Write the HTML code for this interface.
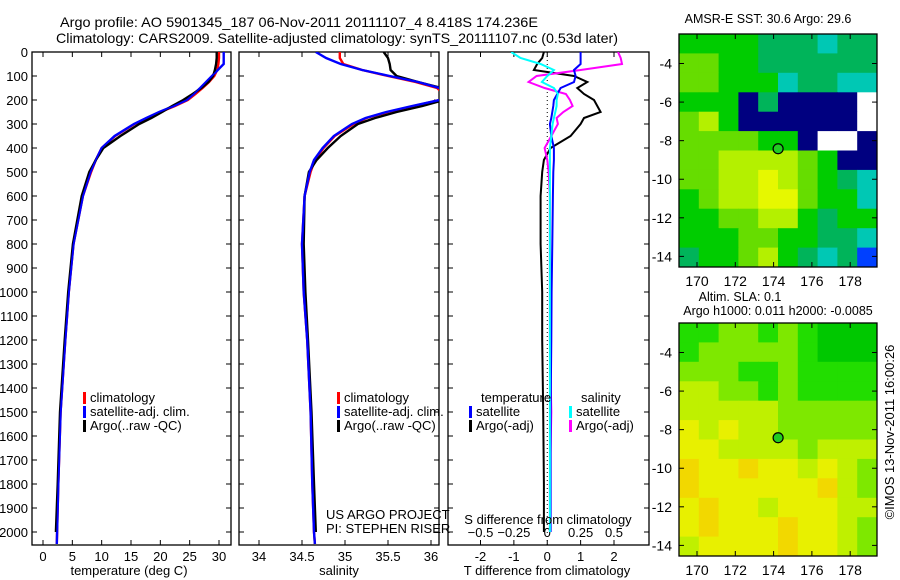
<!DOCTYPE html>
<html><head><meta charset="utf-8"><style>
body{margin:0;background:#fff}
svg{display:block;font-family:"Liberation Sans",sans-serif}
text{fill:#000}
</style></head><body>
<svg id="chart" width="900" height="580" viewBox="0 0 900 580" xmlns="http://www.w3.org/2000/svg">
<rect width="900" height="580" fill="#fff"/>
<text x="60" y="27" font-size="14" textLength="478" lengthAdjust="spacingAndGlyphs">Argo profile: AO 5901345_187 06-Nov-2011 20111107_4 8.418S 174.236E</text>
<text x="56" y="43" font-size="14" textLength="562" lengthAdjust="spacingAndGlyphs">Climatology: CARS2009. Satellite-adjusted climatology: synTS_20111107.nc (0.53d later)</text>
<g id="plots"></g>
</svg>
<script>
// ---- profile data ----
const depths = [0,25,50,75,100,125,150,175,200,225,250,275,300,350,400,450,500,600,800,1000,1200,1500,1800,2000,2050];
const tempClim = [30,30,29.9,29.7,29.2,28.3,27.2,26,24.7,22.5,20,17.8,15.6,12.3,10,9,8.2,6.8,5.2,4.4,3.8,3.0,2.6,2.4,2.35];
const tempSat  = [30.8,30.8,30.8,29.8,28.8,27.8,26.8,25.7,24.5,22.3,19.8,17.6,15.5,12.2,10,9,8.1,6.8,5.2,4.4,3.8,3.0,2.6,2.4,2.35];
const tempArgo = [29.6,29.6,29.5,29.3,29,28.2,27,25.5,23.9,22,20.3,18.5,16.4,13.2,10.3,9,7.9,6.6,5.1,4.3,3.7,2.9,2.5,2.2];
const salClim = [34.94,34.94,34.98,35.2,35.5,35.82,36.07,36.15,36.1,35.8,35.5,35.25,35.1,34.88,34.75,34.65,34.6,34.53,34.5,34.52,34.56,34.6,34.62,34.64,34.65];
const salSat  = [34.66,34.78,34.95,35.2,35.52,35.85,36.1,36.15,36.1,35.78,35.48,35.24,35.08,34.87,34.74,34.64,34.59,34.53,34.5,34.52,34.56,34.6,34.62,34.64,34.65];
const salArgo = [35.45,35.5,35.52,35.53,35.6,35.85,36.12,36.25,36.15,35.9,35.6,35.35,35.15,34.95,34.8,34.67,34.58,34.53,34.52,34.54,34.57,34.61,34.64,34.66];
const dTsat  = [1.0,1.0,1.0,0.8,0.85,0.8,0.4,0.3,0.2,0.18,0.15,0.12,0.08,0.12,0.2,0.2,0.18,0.17,0.15,0.13,0.12,0.1,0.1,0.1];
const dTargo = [-0.1,-0.15,-0.3,-0.4,0.8,1.2,0.9,1.1,1.4,1.5,1.6,1.1,1.0,0.7,0.1,-0.1,-0.15,-0.2,-0.2,-0.15,-0.15,-0.12,-0.1,-0.1];
const dSsat  = [-0.27,-0.2,-0.05,0.05,0.0,-0.04,0.05,0.08,0.07,0.07,0.06,0.05,0.04,0.03,0.02,0.02,0.02,0.02,0.02,0.02,0.02,0.02,0.02,0.02];
const dSargo = [0.53,0.55,0.56,0.25,-0.08,-0.14,-0.02,0.14,0.17,0.19,0.12,0.07,0.08,0.03,-0.02,0.0,0.01,0.02,0.02,0.02,0.02,0.03,0.02,0.02];
const depthTicks = [0,100,200,300,400,500,600,700,800,900,1000,1100,1200,1300,1400,1500,1600,1700,1800,1900,2000];
const tempTicks = [0,5,10,15,20,25,30];
const salTicks = [34,34.5,35,35.5,36];
const salTickLabels = ["34","34.5","35","35.5","36"];
const dTTicks = [-2,-1,0,1,2];
const dSTicks = [-0.5,-0.25,0,0.25,0.5];
const dSTickLabels = ["\u22120.5","\u22120.25","0","0.25","0.5"];
// ---- map data (rows from north to south, cols west to east) ----
const sstGrid = [
[4,4,4,4,3,3,3,2,3,3],
[5,5,4,4,3,3,3,3,3,3],
[5,5,4,4,4,2,3,3,2,2],
[4,4,4,0,3,0,0,0,0,-1],
[5,6,4,0,0,0,0,0,0,-1],
[5,5,5,5,4,4,0,-1,-1,0],
[5,5,6,6,6,6,5,4,0,0],
[5,5,6,6,7,6,5,4,3,2],
[4,5,6,6,7,7,5,4,4,2],
[4,4,5,5,6,6,4,3,4,4],
[4,4,4,5,5,4,4,3,3,2],
[3,4,4,5,6,4,3,2,3,1]];
const slaGrid = [
[1,1,2,2,1,2,1,0,0,0],
[1,2,2,2,2,2,1,0,0,0],
[2,2,2,1,1,2,1,1,1,1],
[3,3,2,2,1,2,1,1,1,1],
[3,3,3,3,3,2,2,2,2,2],
[4,3,4,3,3,2,2,2,2,2],
[4,4,3,3,3,3,2,3,3,3],
[5,4,4,5,4,4,3,4,3,2],
[5,4,4,4,4,4,4,5,3,2],
[4,5,4,4,3,4,4,4,3,3],
[4,5,4,4,4,5,4,4,3,2],
[3,4,4,4,4,5,4,4,3,2]];
const lonTicks = [170,172,174,176,178];
const latTicks = [-4,-6,-8,-10,-12,-14];
const floatLon = 174.236, floatLat = -8.418;

const NS = "http://www.w3.org/2000/svg";
const root = document.getElementById("plots");
function el(tag, attrs, parent, txt){
  const e = document.createElementNS(NS, tag);
  for (const k in attrs) e.setAttribute(k, attrs[k]);
  if (txt !== undefined) e.textContent = txt;
  (parent || root).appendChild(e);
  return e;
}
const yD = d => 52 + d * 0.24;
function lin(d0, d1, p0, p1){ return v => p0 + (v - d0) * (p1 - p0) / (d1 - d0); }

function panel(name, x0, x1){
  const g = el("g", {});
  
  
  const r = el("rect", {x:x0, y:52, width:x1-x0, height:493, fill:"none", stroke:"#000", "stroke-width":1.3}, g);
  
  
  depthTicks.forEach(d => {
    const y = yD(d);
    el("line", {x1:x0, x2:x0+5, y1:y, y2:y, stroke:"#000"}, g);
    el("line", {x1:x1-5, x2:x1, y1:y, y2:y, stroke:"#000"}, g);
  });
  return g;
}
function xTicks(g, ticks, labels, sx, x0, x1, ylab, name){
  ticks.forEach((t,i) => {
    const x = sx(t);
    el("line", {x1:x, x2:x, y1:52, y2:57, stroke:"#000"}, g);
    el("line", {x1:x, x2:x, y1:540, y2:545, stroke:"#000"}, g);
    if (ylab !== null) {
      const tx = el("text", {x:x, y:ylab, "font-size":13, "text-anchor":"middle"}, g, labels[i]);
      
      
    }
  });
}
function clip(id, x0, x1){
  const cp = el("clipPath", {id:id});
  el("rect", {x:x0, y:52, width:x1-x0, height:493}, cp);
}
function line(g, xs, sx, color, name, clipId, w){
  let dstr = "";
  xs.forEach((v,i) => { dstr += (i ? "L" : "M") + sx(v).toFixed(1) + "," + yD(depths[i]).toFixed(1); });
  const p = el("path", {d:dstr, fill:"none", stroke:color, "stroke-width":w||2.4, "clip-path":"url(#"+clipId+")"}, g);
  
  
}
function legendEntry(g, x, y, color, label, name){
  const e = el("g", {}, g);
  
  
  el("rect", {x:x, y:y-10, width:3, height:12, fill:color}, e);
  el("text", {x:x+7, y:y, "font-size":13}, e, label);
}

// depth labels
depthTicks.forEach(d => {
  const t = el("text", {x:28, y:yD(d)+5, "font-size":13, "text-anchor":"end"}, root, String(d));
  
  
});

// temperature panel
const sT = lin(0, 30, 43, 219);
clip("cT", 32, 231);
const gT = panel("temperature-panel", 32, 231);
xTicks(gT, tempTicks, tempTicks.map(String), sT, 32, 231, 561, "temperature");
line(gT, tempClim, sT, "#f00", "temperature-climatology-line", "cT");
line(gT, tempSat, sT, "#00f", "temperature-satellite-line", "cT");
line(gT, tempArgo, sT, "#000", "temperature-argo-line", "cT");
line(gT, tempSat, sT, "#00f", "temperature-satellite-line-top", "cT", 1.6);
const tTitle = el("text", {x:129, y:575, "font-size":13, "text-anchor":"middle"}, gT, "temperature (deg C)");


legendEntry(gT, 83, 402, "#f00", "climatology", "legend-entry-climatology");
legendEntry(gT, 83, 416, "#00f", "satellite-adj. clim.", "legend-entry-satellite");
legendEntry(gT, 83, 430, "#000", "Argo(..raw -QC)", "legend-entry-argo");

// salinity panel
const sS = lin(34, 36, 259, 431);
clip("cS", 239, 439);
const gS = panel("salinity-panel", 239, 439);
xTicks(gS, salTicks, salTickLabels, sS, 239, 439, 561, "salinity");
line(gS, salClim, sS, "#f00", "salinity-climatology-line", "cS");
line(gS, salArgo, sS, "#000", "salinity-argo-line", "cS");
line(gS, salSat, sS, "#00f", "salinity-satellite-line", "cS");
const sTitle = el("text", {x:339, y:575, "font-size":13, "text-anchor":"middle"}, gS, "salinity");


legendEntry(gS, 337, 402, "#f00", "climatology", "legend-entry-climatology-sal");
legendEntry(gS, 337, 416, "#00f", "satellite-adj. clim.", "legend-entry-satellite-sal");
legendEntry(gS, 337, 430, "#000", "Argo(..raw -QC)", "legend-entry-argo-sal");
const cr1 = el("text", {x:326, y:519, "font-size":13}, gS, "US ARGO PROJECT");


const cr2 = el("text", {x:326, y:533, "font-size":13}, gS, "PI: STEPHEN RISER");



// difference panel
const sdT = lin(-2, 2, 480.5, 614);
const sdS = lin(-0.5, 0.5, 480.5, 614);
clip("cD", 448, 649);
const gD = panel("difference-panel", 448, 649);
xTicks(gD, dTTicks, dTTicks.map(String), sdT, 448, 649, 561, "t-diff");
dSTicks.forEach((t,i) => {
  const tx = el("text", {x:sdS(t), y:537, "font-size":13, "text-anchor":"middle"}, gD, dSTickLabels[i]);
  
  
});
el("line", {x1:sdT(0), x2:sdT(0), y1:52, y2:545, stroke:"#000", "stroke-dasharray":"1,3"}, gD);
line(gD, dTargo, sdT, "#000", "t-diff-argo-line", "cD", 2);
line(gD, dSargo, sdS, "#f0f", "s-diff-argo-line", "cD", 2);
line(gD, dTsat, sdT, "#00f", "t-diff-satellite-line", "cD", 2);
line(gD, dSsat, sdS, "#0ff", "s-diff-satellite-line", "cD", 2);
const dt1 = el("text", {x:548, y:524, "font-size":13, "text-anchor":"middle"}, gD, "S difference from climatology");


const dt2 = el("text", {x:547, y:575, "font-size":13, "text-anchor":"middle"}, gD, "T difference from climatology");


el("text", {x:481, y:402, "font-size":13}, gD, "temperature");
el("text", {x:581, y:402, "font-size":13}, gD, "salinity");
legendEntry(gD, 469, 416, "#00f", "satellite", "legend-entry-t-satellite");
legendEntry(gD, 469, 430, "#000", "Argo(-adj)", "legend-entry-t-argo");
legendEntry(gD, 569, 416, "#0ff", "satellite", "legend-entry-s-satellite");
legendEntry(gD, 569, 430, "#f0f", "Argo(-adj)", "legend-entry-s-argo");

// maps
const sstColors = {"-1":"#ffffff",0:"#000080",1:"#0040ff",2:"#00c8b4",3:"#00b45a",4:"#00cc00",5:"#66dd00",6:"#b4f000",7:"#e6f800"};
const slaColors = {0:"#00c800",1:"#22dd00",2:"#7ee800",3:"#bff000",4:"#e8f000",5:"#f2d800"};
function mapPanel(name, top, grid, colors, titles){
  const g = el("g", {});
  
  
  const bot = top + 233;
  const sx = lin(169.06, 179.4, 679, 877);
  const sy = lin(-2.47, -14.55, top, bot);
  const rows = grid.length, cols = grid[0].length;
  const dLon = (179.4 - 169.06) / cols, dLat = (14.55 - 2.47) / rows;
  grid.forEach((row, r) => row.forEach((v, c) => {
    const x0 = sx(169.06 + c*dLon), x1 = sx(169.06 + (c+1)*dLon);
    const y0 = sy(-2.47 - r*dLat), y1 = sy(-2.47 - (r+1)*dLat);
    const cell = el("rect", {x:x0.toFixed(1), y:y0.toFixed(1), width:(x1-x0+0.5).toFixed(1), height:(y1-y0+0.5).toFixed(1), fill:colors[v]}, g);
    
    
  }));
  el("rect", {x:679, y:top, width:198, height:233, fill:"none", stroke:"#000", "stroke-width":1.3}, g);
  lonTicks.forEach(t => {
    const x = sx(t);
    el("line", {x1:x, x2:x, y1:top, y2:top+5, stroke:"#000"}, g);
    el("line", {x1:x, x2:x, y1:bot-5, y2:bot, stroke:"#000"}, g);
    const tx = el("text", {x:x, y:bot+19, "font-size":14, "text-anchor":"middle"}, g, String(t));
    
    
  });
  latTicks.forEach(t => {
    const y = sy(t);
    el("line", {x1:679, x2:684, y1:y, y2:y, stroke:"#000"}, g);
    el("line", {x1:872, x2:877, y1:y, y2:y, stroke:"#000"}, g);
    const tx = el("text", {x:672, y:y+5, "font-size":14, "text-anchor":"end"}, g, String(t));
    
    
  });
  const m = el("circle", {cx:sx(floatLon), cy:sy(floatLat), r:5, fill:"#22cc22", stroke:"#000", "stroke-width":1.2}, g);
  
  
  titles.forEach((t, i) => {
    const tx = el("text", {x:t[1], y:t[2], "font-size":12.5, "text-anchor":"middle"}, g, t[0]);
    
    
  });
}
mapPanel("sst-map", 34, sstGrid, sstColors, [["AMSR-E SST: 30.6 Argo: 29.6", 768, 23]]);
mapPanel("sla-map", 323, slaGrid, slaColors, [["Altim. SLA: 0.1", 740, 301], ["Argo h1000: 0.011 h2000: -0.0085", 778, 315]]);
const cp = el("text", {x:0, y:0, "font-size":13, "text-anchor":"middle", transform:"translate(894,432) rotate(-90)"}, root, "\u00A9IMOS 13-Nov-2011 16:00:26");


</script>
</body></html>
